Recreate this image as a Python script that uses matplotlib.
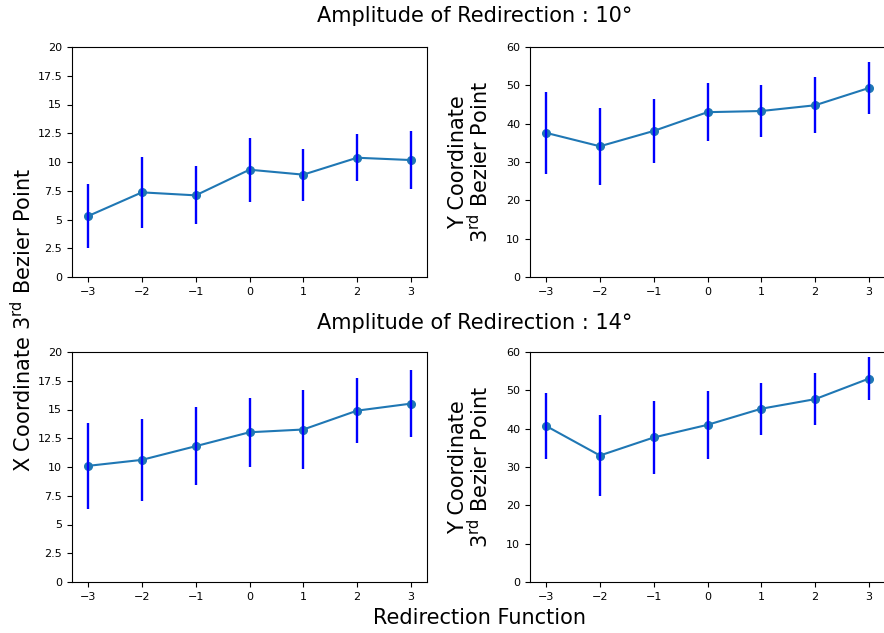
import matplotlib
matplotlib.use("Agg")
import matplotlib.pyplot as plt

x_vals = [-3, -2, -1, 0, 1, 2, 3]

x10_mean = [5.3, 7.36, 7.1, 9.33, 8.9, 10.37, 10.17]
x10_err = [2.8, 3.1, 2.53, 2.78, 2.25, 2.05, 2.55]
y10_mean = [37.6, 34.1, 38.1, 43.0, 43.3, 44.8, 49.3]
y10_err = [10.65, 10.0, 8.4, 7.6, 6.75, 7.35, 6.8]

x14_mean = [10.1, 10.62, 11.81, 13.02, 13.26, 14.9, 15.51]
x14_err = [3.73, 3.56, 3.37, 3.0, 3.45, 2.83, 2.9]
y14_mean = [40.7, 33.0, 37.7, 41.0, 45.2, 47.7, 53.05]
y14_err = [8.5, 10.6, 9.5, 8.95, 6.75, 6.7, 5.65]

xticks = [-3, -2, -1, 0, 1, 2, 3]
x_yticks = [0, 2.5, 5, 7.5, 10, 12.5, 15, 17.5, 20]
x_yticklabels = ["0", "2.5", "5", "7.5", "10", "12.5", "15", "17.5", "20"]
y_yticks = [0, 10, 20, 30, 40, 50, 60]
y_yticklabels = ["0", "10", "20", "30", "40", "50", "60"]

titles = ["Amplitude of Redirection : 10°", "Amplitude of Redirection : 14°"]
left_label = "X Coordinate 3$^{\\mathrm{rd}}$ Bezier Point"
right_label = "Y Coordinate\n3$^{\\mathrm{rd}}$ Bezier Point"
xlabel = "Redirection Function"

W, H = 884, 633
fig = plt.figure(figsize=(W / 100, H / 100), dpi=100)


def rect(l, t, r, b):
    return [l / W, 1 - b / H, (r - l) / W, (b - t) / H]


def draw(ax, mean, err, yticks, ylabels):
    ax.plot(x_vals, mean, "-o", color="#1f77b4", markersize=5.5, linewidth=1.5, zorder=2)
    ax.errorbar(x_vals, mean, yerr=err, fmt="none", ecolor="blue", elinewidth=1.7, zorder=3)
    ax.set_xlim(-3.3, 3.3)
    ax.set_xticks(xticks)
    ax.set_yticks(yticks)
    ax.set_yticklabels(ylabels)
    ax.set_ylim(yticks[0], yticks[-1])
    ax.tick_params(labelsize=8)


ax_tl = fig.add_axes(rect(72, 47, 427, 277))
ax_tr = fig.add_axes(rect(530, 47, 885, 277))
ax_bl = fig.add_axes(rect(72, 352, 427, 582))
ax_br = fig.add_axes(rect(530, 352, 885, 582))

draw(ax_tl, x10_mean, x10_err, x_yticks, x_yticklabels)
draw(ax_tr, y10_mean, y10_err, y_yticks, y_yticklabels)
draw(ax_bl, x14_mean, x14_err, x_yticks, x_yticklabels)
draw(ax_br, y14_mean, y14_err, y_yticks, y_yticklabels)

for ax in (ax_tr, ax_br):
    ax.set_ylabel(right_label, fontsize=15, labelpad=10, linespacing=0.95)

fig.text(475 / W, 1 - 16 / H, titles[0], ha="center", va="center", fontsize=15)
fig.text(475 / W, 1 - 323 / H, titles[1], ha="center", va="center", fontsize=15)
fig.text(23 / W, 1 - 320 / H, left_label, ha="center", va="center", rotation=90, fontsize=15)
fig.text(480 / W, 1 - 618 / H, xlabel, ha="center", va="center", fontsize=15)

fig.savefig("out.png", dpi=100)
